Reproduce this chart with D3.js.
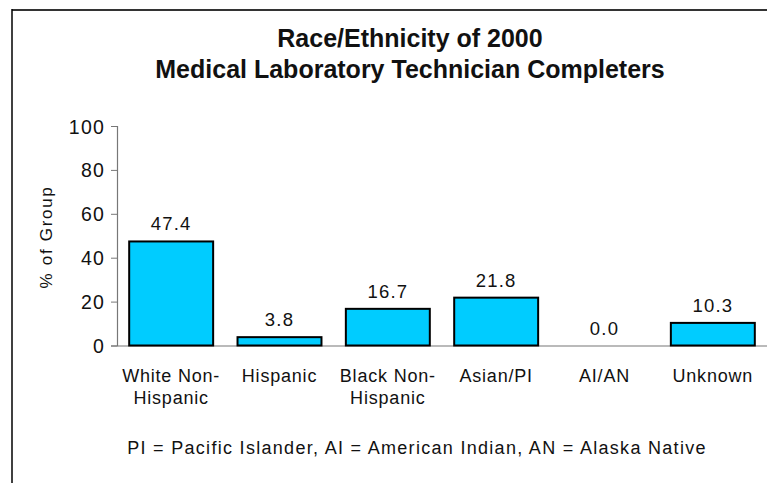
<!DOCTYPE html>
<html>
<head>
<meta charset="utf-8">
<script src="https://cdn.jsdelivr.net/npm/d3@7"></script>
<style>
  html, body { margin: 0; padding: 0; background: #fff; }
  svg { display: block; }
  text { font-family: Arial, "Liberation Sans", Helvetica, sans-serif; fill: #111; }
</style>
</head>
<body>
<svg id="chart" width="767" height="483"></svg>
<script>
const categories = [["White Non-", "Hispanic"], ["Hispanic"], ["Black Non-", "Hispanic"], ["Asian/PI"], ["AI/AN"], ["Unknown"]];
const values = [47.4, 3.8, 16.7, 21.8, 0.0, 10.3];
const yTicks = [0, 20, 40, 60, 80, 100];
const titleLines = ["Race/Ethnicity of 2000", "Medical Laboratory Technician Completers"];
const yTitle = "% of Group";
const footnote = "PI = Pacific Islander, AI = American Indian, AN = Alaska Native";

const svg = d3.select("#chart");
const W = 767, H = 483;

// frame
svg.append("line").attr("x1", 12).attr("x2", W).attr("y1", 10).attr("y2", 10)
  .attr("stroke", "#333").attr("stroke-width", 2);
svg.append("line").attr("x1", 12).attr("x2", 12).attr("y1", 9).attr("y2", 483)
  .attr("stroke", "#000").attr("stroke-width", 1.5);

// title
svg.append("text")
  .attr("text-anchor", "middle").style("font-weight", "bold").style("font-size", "25px")
  .selectAll("tspan").data(titleLines).join("tspan")
  .attr("x", 410).attr("y", (d, i) => 47 + i * 31).text(d => d);

const idx = d3.range(values.length);
const x = d3.scaleBand().domain(idx).range([117, 767]).paddingInner(0.225).paddingOuter(0.1125);
const y = d3.scaleLinear().domain([0, 100]).range([345.5, 126]);

// y axis
const yAxis = d3.axisLeft(y).tickValues(yTicks).tickSize(6).tickPadding(6).tickFormat(d3.format("d"));
const gy = svg.append("g").attr("transform", "translate(117,0)").call(yAxis);
gy.select(".domain").attr("stroke", "#777").attr("stroke-width", 1.2);
gy.selectAll(".tick line").attr("stroke", "#777");
gy.selectAll(".tick text").style("font-size", "19.5px").attr("fill", "#111")
  .style("font-family", "Arial, 'Liberation Sans', sans-serif").attr("dy", "0.36em").style("letter-spacing", "1.2px");

// x axis line
const gx = svg.append("g").attr("transform", `translate(0,${y(0)})`)
  .call(d3.axisBottom(x).tickSize(0).tickFormat(""));
gx.select(".domain").attr("stroke", "#777").attr("stroke-width", 1.2);

// bars
svg.append("g").selectAll("rect").data(idx).join("rect")
  .attr("x", i => x(i))
  .attr("y", i => y(values[i]))
  .attr("width", x.bandwidth())
  .attr("height", i => y(0) - y(values[i]))
  .attr("fill", "#00CCFF")
  .attr("stroke", i => values[i] > 0 ? "#000" : "none")
  .attr("stroke-width", 2);

// value labels
svg.append("g").selectAll("text").data(idx).join("text")
  .attr("x", i => x(i) + x.bandwidth() / 2)
  .attr("y", i => y(values[i]) - 11)
  .attr("text-anchor", "middle")
  .style("font-size", "18.5px").style("letter-spacing", "1.2px")
  .text(i => values[i].toFixed(1));

// category labels
const cat = svg.append("g").selectAll("text").data(idx).join("text")
  .attr("text-anchor", "middle").style("font-size", "18px").style("letter-spacing", "0.8px");
cat.selectAll("tspan").data(i => categories[i].map(t => ({ t, i }))).join("tspan")
  .attr("x", d => x(d.i) + x.bandwidth() / 2)
  .attr("y", (d, j) => 382 + j * 22)
  .text(d => d.t);

// y title
svg.append("text")
  .attr("transform", "translate(52,237) rotate(-90)")
  .attr("text-anchor", "middle")
  .style("font-size", "17px").style("letter-spacing", "1.7px").attr("fill", "#333")
  .text(yTitle);

// footnote
svg.append("text").attr("x", 417).attr("y", 454).attr("text-anchor", "middle")
  .style("font-size", "18px").style("letter-spacing", "1.3px").text(footnote);
</script>
</body>
</html>
